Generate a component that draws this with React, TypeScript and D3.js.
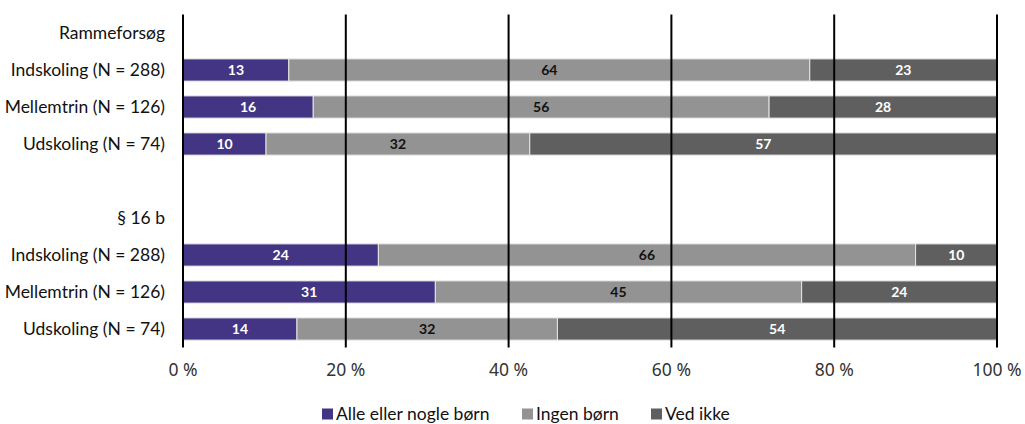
import React from "react";
import * as d3 from "d3";

const rows = [
  "Rammeforsøg",
  "Indskoling (N = 288)|1",
  "Mellemtrin (N = 126)|1",
  "Udskoling (N = 74)|1",
  "blank",
  "§ 16 b",
  "Indskoling (N = 288)|2",
  "Mellemtrin (N = 126)|2",
  "Udskoling (N = 74)|2",
];
const barRows = [
  "Indskoling (N = 288)|1",
  "Mellemtrin (N = 126)|1",
  "Udskoling (N = 74)|1",
  "Indskoling (N = 288)|2",
  "Mellemtrin (N = 126)|2",
  "Udskoling (N = 74)|2",
];
const seriesNames = ["Alle eller nogle børn", "Ingen børn", "Ved ikke"];
const alle = [13, 16, 10.2, 24, 31, 14];
const ingen = [64, 56, 32.4, 66, 45, 32];
const vedIkke = [23, 28, 57.4, 10, 24, 54];
const xTicks = [0, 20, 40, 60, 80, 100];

const colors = ["#433583", "#939393", "#5f5f5f"];
const labelColors = ["#ffffff", "#111111", "#ffffff"];
const FONT = "Lato, 'Noto Sans', sans-serif";

export default function App() {
  const W = 1025, H = 424;
  const x = d3.scaleLinear().domain([0, 100]).range([183, 997]);
  const y = d3.scaleBand().domain(rows).range([14.5, 347.5]).paddingInner(0.4).paddingOuter(0.2);
  const table = barRows.map((r, i) => ({ row: r, a: alle[i], b: ingen[i], c: vedIkke[i] }));
  const stack = d3.stack<any>().keys(["a", "b", "c"])(table);

  const labelOf = (r: string) => (r === "blank" ? "" : r.split("|")[0]);

  const legendItems = [
    { x: 322, name: seriesNames[0], color: colors[0] },
    { x: 522, name: seriesNames[1], color: colors[1] },
    { x: 651, name: seriesNames[2], color: colors[2] },
  ];

  return (
    <div style={{ position: "absolute", left: 0, top: 0 }}>
      <svg width={W} height={H} style={{ display: "block", fontFamily: FONT }}>
        <rect width={W} height={H} fill="#fff" />
        {stack.map((s, si) =>
          s.map((d, i) => {
            const r = barRows[i];
            const x0 = x(d[0]), x1 = x(d[1]);
            const v = d[1] - d[0];
            return (
              <g key={si + "-" + i}>
                <rect
                  x={x0}
                  y={y(r)!}
                  width={x1 - x0}
                  height={y.bandwidth()}
                  fill={colors[si]}
                  stroke="#e6e6e6"
                  strokeWidth={1}
                />
                <text
                  x={(x0 + x1) / 2}
                  y={y(r)! + y.bandwidth() / 2}
                  dy="0.36em"
                  textAnchor="middle"
                  fontSize={14}
                  fontWeight="bold"
                  fill={labelColors[si]}
                >
                  {Math.round(v)}
                </text>
              </g>
            );
          })
        )}
        {xTicks.map((t) => (
          <g key={t}>
            <line x1={x(t)} x2={x(t)} y1={14.5} y2={347.5} stroke="#000" strokeWidth={2} />
            <text
              x={x(t)}
              y={376}
              textAnchor="middle"
              fontSize={17.5}
              fill="#333"
              fontFamily="'Noto Sans', sans-serif"
              style={{ whiteSpace: "pre" }}
            >
              {t + "\u00a0%"}
            </text>
          </g>
        ))}
        {rows.map((r) => (
          <text
            key={r}
            x={165}
            y={y(r)! + y.bandwidth() / 2}
            dy="0.35em"
            textAnchor="end"
            fontSize={17.5}
            fill="#111"
          >
            {labelOf(r)}
          </text>
        ))}
        {legendItems.map((l) => (
          <g key={l.name}>
            <rect x={l.x} y={408.5} width={11} height={11} fill={l.color} />
            <text x={l.x + 14} y={419.5} fontSize={17.5} fill="#111">
              {l.name}
            </text>
          </g>
        ))}
      </svg>
    </div>
  );
}
